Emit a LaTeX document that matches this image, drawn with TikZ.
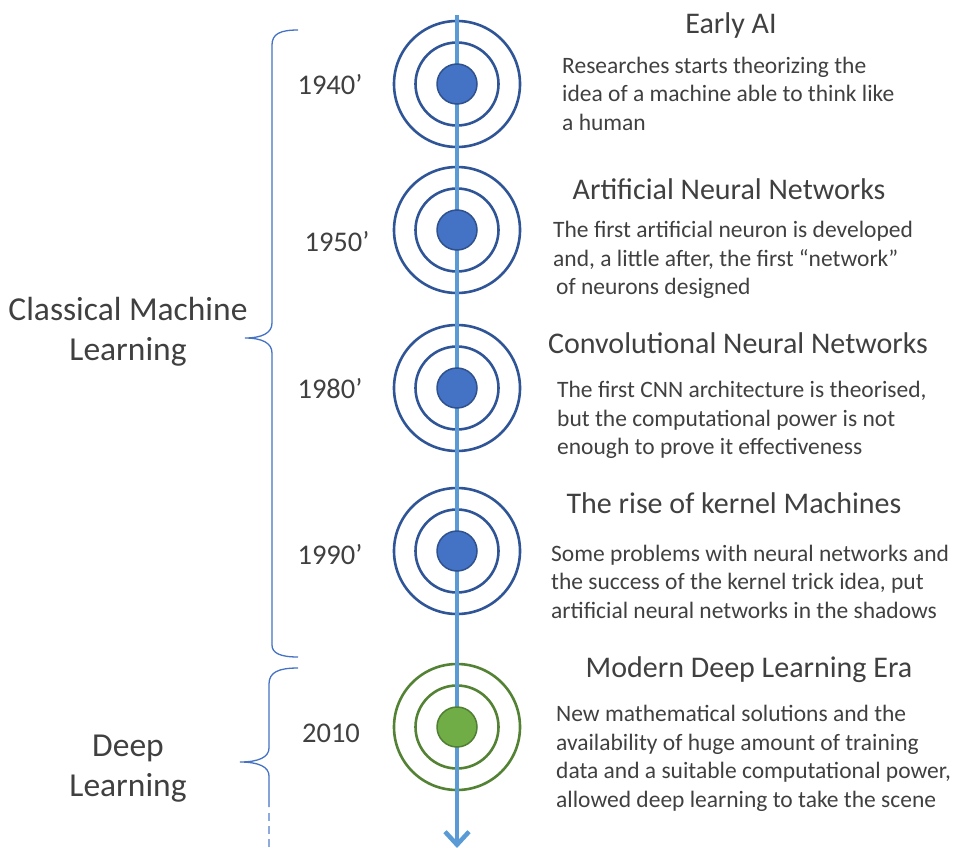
\documentclass[tikz,border=0pt]{standalone}
\usepackage{fontspec}
\setmainfont{Carlito}
\usetikzlibrary{arrows.meta}
\definecolor{ringblue}{HTML}{2F5597}
\definecolor{dotblue}{HTML}{4472C4}
\definecolor{dotblueb}{HTML}{2F528F}
\definecolor{ringgreen}{HTML}{548235}
\definecolor{dotgreen}{HTML}{70AD47}
\definecolor{dotgreenb}{HTML}{507E32}
\definecolor{tline}{HTML}{5B9BD5}
\definecolor{bracec}{HTML}{4472C4}
\definecolor{txt}{HTML}{404040}
\begin{document}
\begin{tikzpicture}[x=1pt,y=-1pt,
  ringouter/.style={circle,draw=#1,line width=2.6pt,minimum size=126pt,inner sep=0pt},
  ringinner/.style={circle,draw=#1,line width=2.6pt,minimum size=83pt,inner sep=0pt},
  dot/.style={circle,minimum size=40pt,inner sep=0pt,line width=1.5pt},
  timeline/.style={draw=tline,line width=4.5pt,-{Straight Barb[length=13pt,width=24pt]}},
  bracestyle/.style={draw=bracec,line width=1.3pt},
  body/.style={font=\fontsize{23.5}{28.5}\selectfont,align=left,inner sep=0pt,anchor=north west,text=txt},
  title/.style={font=\fontsize{30}{36}\selectfont,inner sep=0pt,anchor=base,text=txt},
  year/.style={font=\fontsize{28.5}{34}\selectfont,inner sep=0pt,anchor=base,text=txt},
  era/.style={font=\fontsize{33.5}{40}\selectfont,align=center,inner sep=0pt,anchor=north,text=txt}
]
\useasboundingbox (0,0) rectangle (958,848);

% rings
\foreach \n/\y in {a/84,b/230,c/388,d/551}{
  \node[ringouter=ringblue] (o\n) at (457,\y) {};
  \node[ringinner=ringblue] (i\n) at (457,\y) {};
}
\node[ringouter=ringgreen] (oe) at (457,727) {};
\node[ringinner=ringgreen] (ie) at (457,727) {};

% timeline
\coordinate (top) at (457,15);
\coordinate (bot) at (457,848);
\draw[timeline] (top) -- (bot);

% dots
\foreach \n in {a,b,c,d}{
  \node[dot,fill=dotblue,draw=dotblueb] (d\n) at (o\n.center) {};
}
\node[dot,fill=dotgreen,draw=dotgreenb] (de) at (oe.center) {};

% braces
\draw[bracestyle] (298,30) .. controls (280,30) and (272,34) .. (272,45)
  -- (272,323) .. controls (272,333) and (262,338) .. (245,338)
  .. controls (262,338) and (272,343) .. (272,353)
  -- (272,645) .. controls (272,653) and (280,657) .. (298,657);
\draw[bracestyle] (298,668) .. controls (279,668) and (269,672) .. (269,684)
  -- (269,748) .. controls (269,757) and (259,762) .. (240,762)
  .. controls (259,762) and (269,767) .. (269,776)
  -- (269,807);
\draw[draw=bracec!60,line width=1.3pt,dash pattern=on 8pt off 5pt] (269,813) -- (269,848);

% eras
\node[era] (era1) at (128,297) {Classical Machine\\Learning};
\node[era] (era2) at (128,735) {Deep\\Learning};

% years
\node[year] (y1) at (330,94.5) {1940’};
\node[year] (y2) at (337,251.5) {1950’};
\node[year] (y3) at (330,398.5) {1980’};
\node[year] (y4) at (330,564.5) {1990’};
\node[year] (y5) at (331,742.5) {2010};

% titles
\node[title] (t1) at (731,34) {Early AI};
\node[title] (t2) at (729,199) {Artificial Neural Networks};
\node[title] (t3) at (738,353) {Convolutional Neural Networks};
\node[title] (t4) at (734,513) {The rise of kernel Machines};
\node[title] (t5) at (749,677) {Modern Deep Learning Era};

% bodies
\node[body] (b1) at (562,56.5) {Researches starts theorizing the\\idea of a machine able to think like\\a human};
\node[body] (b2) at (553,221) {The first artificial neuron is developed\\and, a little after, the first “network”\\\hspace{3pt}of neurons designed};
\node[body] (b3) at (557,381) {The first CNN architecture is theorised,\\but the computational power is not\\enough to prove it effectiveness};
\node[body] (b4) at (551,544.5) {Some problems with neural networks and\\the success of the kernel trick idea, put\\artificial neural networks in the shadows};
\node[body] (b5) at (556,705) {New mathematical solutions and the\\availability of huge amount of training\\data and a suitable computational power,\\allowed deep learning to take the scene};
\end{tikzpicture}
\end{document}
